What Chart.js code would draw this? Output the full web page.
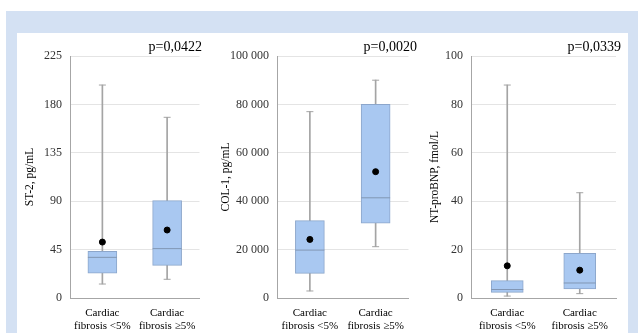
<!DOCTYPE html>
<html>
<head>
<meta charset="utf-8">
<script src="https://cdn.jsdelivr.net/npm/chart.js@4"></script>
<style>
  body { margin: 0; width: 638px; height: 333px; background: #fff; position: relative; overflow: hidden; font-family: "Liberation Serif", "Times New Roman", serif; }
  .frame { position: absolute; left: 6px; top: 11px; width: 632px; height: 322px; background: #d4e1f3; }
  .panel { position: absolute; left: 17px; top: 33px; width: 611px; height: 300px; background: #fff; }
  canvas { position: absolute; top: 33px; }
  .pval { position: absolute; top: 39px; font-size: 14px; line-height: 16px; color: #000; white-space: nowrap; }
</style>
</head>
<body>
<div class="frame"></div>
<div class="panel"></div>
<canvas id="st2" style="left:17px" width="198" height="300"></canvas>
<canvas id="col1" style="left:215px" width="209" height="300"></canvas>
<canvas id="ntbnp" style="left:424px" width="209" height="300"></canvas>
<div class="pval" style="right:436px">p=0,0422</div>
<div class="pval" style="right:221px">p=0,0020</div>
<div class="pval" style="right:17px">p=0,0339</div>
<script>
// Groups
const categories = [['Cardiac', 'fibrosis <5%'], ['Cardiac', 'fibrosis \u22655%']];

// ST-2, pg/mL
const st2Min = [13, 17.4];
const st2Q1 = [23, 30.4];
const st2Median = [37.8, 45.9];
const st2Q3 = [43.4, 90.5];
const st2Max = [198, 168];
const st2Mean = [52, 63.2];
const st2Ticks = [0, 45, 90, 135, 180, 225];

// COL-1, pg/mL
const col1Min = [2900, 21200];
const col1Q1 = [10200, 30900];
const col1Median = [19800, 41400];
const col1Q3 = [32000, 80000];
const col1Max = [77000, 90000];
const col1Mean = [24200, 52200];
const col1Ticks = [0, 20000, 40000, 60000, 80000, 100000];

// NT-proBNP, fmol/L
const bnpMin = [0.8, 1.8];
const bnpQ1 = [2.3, 3.8];
const bnpMedian = [3.5, 6.2];
const bnpQ3 = [7.2, 18.5];
const bnpMax = [88, 43.5];
const bnpMean = [13.3, 11.5];
const bnpTicks = [0, 20, 40, 60, 80, 100];

const FONT = '"Liberation Serif", "Times New Roman", serif';

// 100000 -> "100 000"
function spaced(v) {
    return String(v).replace(/\B(?=(\d{3})+(?!\d))/g, ' ');
}

// Box plot built from floating bars (stem + box) and point markers (median, caps, mean)
function boxChart(id, s) {
    const pair = (a, b) => a.map((v, i) => [v, b[i]]);
    const marker = (data, style, radius, color, order) => ({
        type: 'line',
        data: data,
        showLine: false,
        pointStyle: style,
        pointRadius: radius,
        pointBorderColor: color,
        pointBackgroundColor: color,
        pointBorderWidth: 1,
        order: order
    });

    new Chart(document.getElementById(id), {
        type: 'bar',
        data: {
            labels: categories,
            datasets: [
                // whisker stem
                { data: pair(s.min, s.max), barThickness: 1, backgroundColor: '#a4a4a4', grouped: false, order: 5 },
                // box
                { data: pair(s.q1, s.q3), barThickness: s.boxWidth, backgroundColor: '#a9c8f1',
                  borderColor: '#8ca6cb', borderWidth: 1, borderSkipped: false, grouped: false, order: 4 },
                marker(s.median, 'line', s.boxWidth / 2, '#8196b3', 3),
                marker(s.min, 'line', 3.5, '#a4a4a4', 2),
                marker(s.max, 'line', 3.5, '#a4a4a4', 2),
                marker(s.mean, 'circle', 3, '#000', 1)
            ]
        },
        options: {
            responsive: false,
            animation: false,
            events: [],
            layout: { padding: { left: s.padLeft, right: s.padRight, top: 23, bottom: 0 } },
            plugins: { legend: { display: false }, tooltip: { enabled: false } },
            scales: {
                x: {
                    grid: { display: false },
                    border: { color: '#a6a6a6' },
                    ticks: { color: '#000', padding: 1, font: { family: FONT, size: 11, lineHeight: 1.15 } },
                    afterFit: (scale) => {
                        scale.height = 35;
                        scale.paddingLeft = 0;
                        scale.paddingRight = 0;
                    }
                },
                y: {
                    min: s.ticks[0],
                    max: s.ticks[s.ticks.length - 1],
                    grid: { color: '#e4e4e4', drawTicks: false },
                    border: { color: '#a6a6a6' },
                    ticks: { color: '#333', padding: 8, font: { family: FONT, size: 12 }, callback: (v) => s.format(v) },
                    title: { display: true, text: s.title, color: '#000', padding: { top: 4, bottom: 4 }, font: { family: FONT, size: 11.5 } },
                    afterBuildTicks: (scale) => { scale.ticks = s.ticks.map((v) => ({ value: v })); },
                    afterFit: (scale) => {
                        scale.width = s.axisWidth;
                        scale.paddingTop = 0;
                        scale.paddingBottom = 0;
                    }
                }
            }
        }
    });
}

boxChart('st2', {
    min: st2Min, q1: st2Q1, median: st2Median, q3: st2Q3, max: st2Max, mean: st2Mean,
    ticks: st2Ticks, title: 'ST-2, pg/mL', format: (v) => String(v),
    boxWidth: 29, padLeft: 2.4, padRight: 3, axisWidth: 50.6
});

boxChart('col1', {
    min: col1Min, q1: col1Q1, median: col1Median, q3: col1Q3, max: col1Max, mean: col1Mean,
    ticks: col1Ticks, title: 'COL-1, pg/mL', format: spaced,
    boxWidth: 29, padLeft: 0.4, padRight: 1, axisWidth: 61.6
});

boxChart('ntbnp', {
    min: bnpMin, q1: bnpQ1, median: bnpMedian, q3: bnpQ3, max: bnpMax, mean: bnpMean,
    ticks: bnpTicks, title: 'NT-proBNP, fmol/L', format: (v) => String(v),
    boxWidth: 32, padLeft: 0.4, padRight: 3, axisWidth: 46.6
});
</script>
</body>
</html>
